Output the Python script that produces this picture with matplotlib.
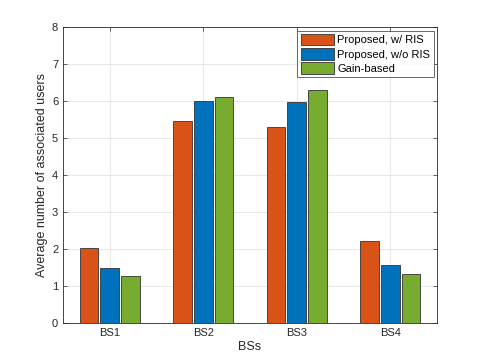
import numpy as np
import matplotlib
matplotlib.use('Agg')
import matplotlib.pyplot as plt

plt.rcParams['font.family'] = ['Liberation Sans', 'DejaVu Sans']

# Data
bs_labels = ['BS1', 'BS2', 'BS3', 'BS4']
proposed_ris = [2.03, 5.46, 5.30, 2.22]
proposed_no_ris = [1.48, 6.01, 5.98, 1.56]
gain_based = [1.26, 6.10, 6.31, 1.34]
series_names = ['Proposed, w/ RIS', 'Proposed, w/o RIS', 'Gain-based']
colors = ['#D95319', '#0072BD', '#77AC30']

fig = plt.figure(figsize=(4.85, 3.63), dpi=100)
ax = fig.add_axes([0.13, 0.11, 0.771, 0.815])

x = np.arange(1, len(bs_labels) + 1)
width = 0.2
pitch = 0.222
for i, (vals, name, c) in enumerate(zip([proposed_ris, proposed_no_ris, gain_based], series_names, colors)):
    ax.bar(x + (i - 1) * pitch, vals, width, color=c, edgecolor='#333333',
           linewidth=0.6, label=name, zorder=3)

ax.set_xlim(0.5, 4.5)
ax.set_ylim(0, 8)
ax.set_xticks(x)
ax.set_xticklabels(bs_labels)
ax.set_yticks(np.arange(0, 9, 1))
ax.grid(True, color='#e3e3e3', linewidth=0.6, zorder=0)
ax.set_axisbelow(True)
ax.tick_params(direction='in', length=3, width=0.5, labelsize=8, colors='#262626',
               top=True, right=True)
for s in ax.spines.values():
    s.set_linewidth(0.6)
    s.set_color('#262626')
ax.set_xlabel('BSs', fontsize=9, color='#262626', labelpad=2)
ax.set_ylabel('Average number of associated users', fontsize=9, color='#262626', labelpad=3)

leg = ax.legend(loc='upper right', fontsize=8, frameon=True, fancybox=False,
                edgecolor='#262626', borderaxespad=0.3, handlelength=3.0,
                handleheight=1.2, handletextpad=0.3, labelspacing=0.25,
                borderpad=0.3)
leg.get_frame().set_linewidth(0.6)

fig.savefig('out.png', dpi=100)
